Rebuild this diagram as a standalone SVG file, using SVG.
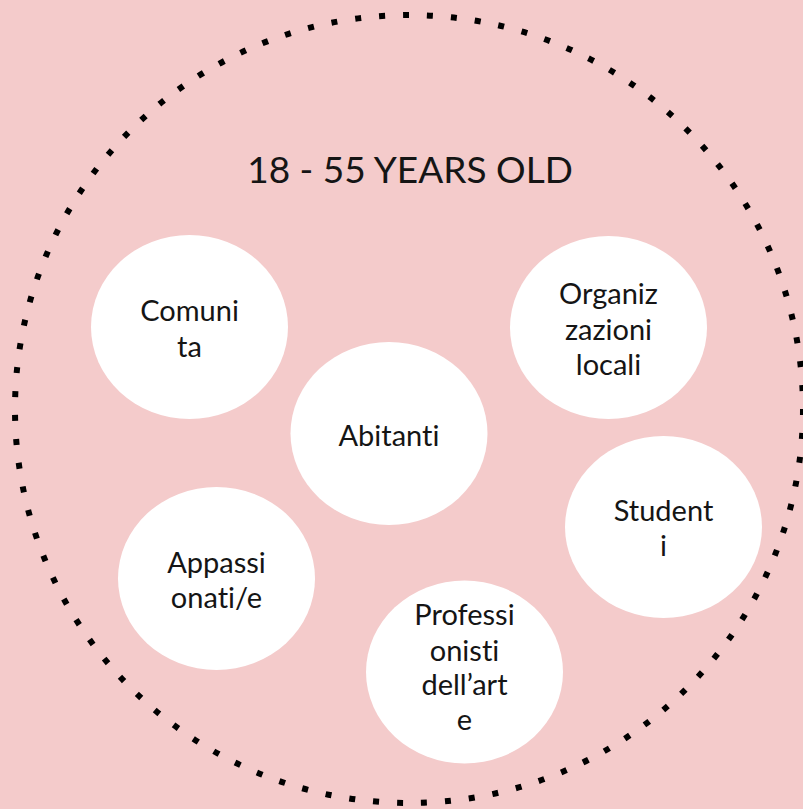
<svg xmlns="http://www.w3.org/2000/svg" width="803" height="809" viewBox="0 0 803 809">
  <style>
    .bubble { fill: #ffffff; }
    .lbl { font-family: Lato, "Open Sans", "Liberation Sans", sans-serif; font-size: 29px; font-weight: 400; fill: #151515; text-anchor: middle; font-variant-ligatures: none; }
    .title { font-family: Lato, "Open Sans", "Liberation Sans", sans-serif; font-size: 37px; font-weight: 400; fill: #151515; text-anchor: middle; font-variant-ligatures: none; }
    .dots { fill: none; stroke: #000000; stroke-width: 6; stroke-dasharray: 1 3; }
  </style>
  <rect width="803" height="809" fill="#f4cbcb"/>
  <g id="boundary">
    <circle class="dots" cx="409" cy="409" r="394" pathLength="412"/>
  </g>
  <g id="title">
    <text class="title" x="410" y="183">18 - 55 YEARS OLD</text>
  </g>
  <g id="connectors"></g>
  <g id="node-comunita">
    <ellipse class="bubble" cx="189.5" cy="327" rx="98.5" ry="92"/>
    <text class="lbl" x="189.5" y="321">Comuni</text>
    <text class="lbl" x="189.5" y="357">ta</text>
  </g>
  <g id="node-organizzazioni">
    <ellipse class="bubble" cx="608.5" cy="327.5" rx="98.5" ry="91.5"/>
    <text class="lbl" x="608.5" y="304">Organiz</text>
    <text class="lbl" x="608.5" y="340">zazioni</text>
    <text class="lbl" x="608.5" y="375">locali</text>
  </g>
  <g id="node-abitanti">
    <ellipse class="bubble" cx="389" cy="433.5" rx="98.5" ry="91.5"/>
    <text class="lbl" x="389" y="446">Abitanti</text>
  </g>
  <g id="node-studenti">
    <ellipse class="bubble" cx="663.5" cy="527" rx="98.5" ry="91"/>
    <text class="lbl" x="663.5" y="521">Student</text>
    <text class="lbl" x="663.5" y="556">i</text>
  </g>
  <g id="node-appassionati">
    <ellipse class="bubble" cx="216.5" cy="578.5" rx="98.5" ry="91.5"/>
    <text class="lbl" x="216.5" y="573">Appassi</text>
    <text class="lbl" x="216.5" y="608">onati/e</text>
  </g>
  <g id="node-professionisti">
    <ellipse class="bubble" cx="464.5" cy="672" rx="98.5" ry="91.5"/>
    <text class="lbl" x="464.5" y="625">Professi</text>
    <text class="lbl" x="464.5" y="661">onisti</text>
    <text class="lbl" x="464.5" y="695">dell’art</text>
    <text class="lbl" x="464.5" y="730">e</text>
  </g>
</svg>
